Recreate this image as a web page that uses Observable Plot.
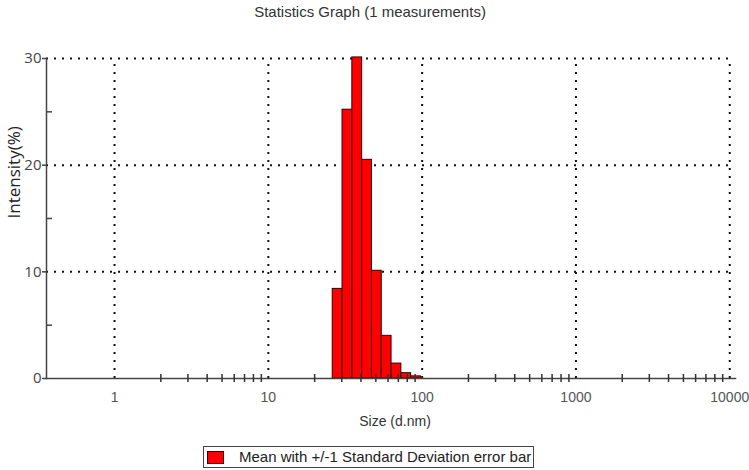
<!DOCTYPE html>
<html>
<head>
<meta charset="utf-8">
<script src="https://cdn.jsdelivr.net/npm/d3@7"></script>
<script src="https://cdn.jsdelivr.net/npm/@observablehq/plot@0.6"></script>
<style>
  html, body { margin: 0; padding: 0; background: #fff; }
  #wrap { position: relative; width: 749px; height: 470px; overflow: hidden; font-family: "Liberation Sans", Arial, sans-serif; }
  #title { position: absolute; left: 0; top: 0; width: 740px; height: 24px; line-height: 24px; text-align: center; font-size: 15px; color: #333; }
  #chart { position: absolute; left: 0; top: 24px; }
  #legend { position: absolute; left: 203px; top: 446px; width: 331px; height: 22px; box-sizing: border-box; border: 1.5px solid #444; background: #fff; }
  #legend .sw { position: absolute; left: 3px; top: 4px; width: 15px; height: 11px; background: #ff0000; border: 1px solid #300; }
  #legend .tx { position: absolute; left: 35px; top: 0; line-height: 19px; font-size: 15px; color: #222; white-space: nowrap; }
</style>
</head>
<body>
<div id="wrap">
  <div id="title">Statistics Graph (1 measurements)</div>
  <div id="chart"></div>
  <div id="legend"><div class="sw"></div><div class="tx">Mean with +/-1 Standard Deviation error bar</div></div>
</div>
<script>
// Size classes (bin centres, d.nm) and mean intensity (%)
const sizeBins = [28.21, 32.67, 37.84, 43.82, 50.75, 58.77, 68.06, 78.82, 91.28];
const intensity = [8.4, 25.2, 30.1, 20.5, 10.1, 4.0, 1.4, 0.5, 0.2];
const binRatio = 1.1583; // ratio between adjacent size classes

const xMajorTicks = [1, 10, 100, 1000, 10000];
const xMinorTicks = [];
for (const dec of [1, 10, 100, 1000]) for (let k = 2; k <= 9; k++) xMinorTicks.push(dec * k);
const yMajorTicks = [0, 10, 20, 30];
const yMinorTicks = [5, 15, 25];
const xDomain = [0.361, 10900];
const yDomain = [0, 30];

const bars = sizeBins.map((s, i) => ({
  lo: s / Math.sqrt(binRatio),
  hi: s * Math.sqrt(binRatio),
  v: intensity[i]
}));

const dotted = { stroke: "#111", strokeWidth: 2, strokeDasharray: "2,6" };

const chart = Plot.plot({
  width: 749,
  height: 418,
  marginTop: 34,
  marginBottom: 64,
  marginLeft: 46,
  marginRight: 14,
  style: { fontFamily: "Liberation Sans, Arial, sans-serif", background: "#fff", overflow: "visible" },
  x: { type: "log", domain: xDomain },
  y: { domain: yDomain },
  marks: [
    // dotted grid
    Plot.ruleY([10, 20, 30], { x1: xDomain[0], x2: 10000, ...dotted }),
    Plot.ruleX(xMajorTicks, { y1: 0, y2: 30, ...dotted }),
    // bars
    Plot.rectY(bars, { x1: "lo", x2: "hi", y: "v", fill: "#ff0000", stroke: "#300", strokeWidth: 1 }),
    // axis lines
    Plot.frame({ anchor: "left", stroke: "#444", strokeWidth: 1.5 }),
    Plot.frame({ anchor: "bottom", stroke: "#444", strokeWidth: 1.5 }),
    // y axis
    Plot.axisY({ ticks: yMajorTicks, tickSize: 4, tickPadding: 1, label: null, fontSize: 15,
      fontFamily: "Open Sans, DejaVu Sans, sans-serif", color: "#444", stroke: "#444", strokeWidth: 1.5 }),
    Plot.axisY({ ticks: yMinorTicks, tickSize: 6, dx: 6, tickFormat: () => "", label: null, stroke: "#444", strokeWidth: 1.5 }),
    // x axis
    Plot.axisX({ ticks: xMinorTicks, tickSize: 8, dy: -4, tickFormat: () => "", label: null, stroke: "#333", strokeWidth: 1.5 }),
    Plot.axisX({ ticks: xMajorTicks, tickSize: 0, tickPadding: 14, tickFormat: d => String(d), label: null,
      fontSize: 14, color: "#555" }),
    // axis titles
    Plot.text(["Intensity(%)"], { frameAnchor: "left", dx: -32, rotate: -90, fontSize: 17,
      fontFamily: "Open Sans, DejaVu Sans, sans-serif", fill: "#222" }),
    Plot.text(["Size (d.nm)"], { frameAnchor: "bottom", dx: 4, dy: 47, fontSize: 14, fill: "#333" })
  ]
});
document.getElementById("chart").appendChild(chart);
</script>
</body>
</html>
